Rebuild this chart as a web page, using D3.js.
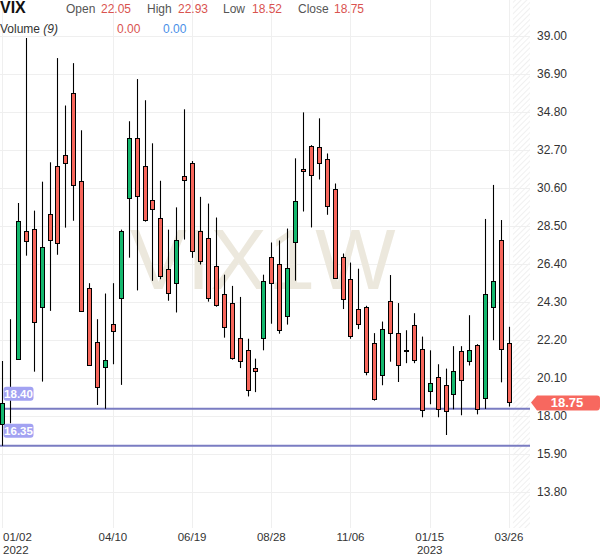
<!DOCTYPE html>
<html><head><meta charset="utf-8">
<script src="https://cdn.jsdelivr.net/npm/d3@7"></script>
<style>
body{margin:0;background:#fff;}
svg{display:block;font-family:"Liberation Sans",Arial,sans-serif;}
</style>
</head><body>
<svg id="c" width="600" height="558"></svg>
<script>
const symbol = "VIX";
const interval = "1W";
const weeks = ["2022-01-02","2022-01-09","2022-01-16","2022-01-23","2022-01-30","2022-02-06","2022-02-13","2022-02-20","2022-02-27","2022-03-06","2022-03-13","2022-03-20","2022-03-27","2022-04-03","2022-04-10","2022-04-17","2022-04-24","2022-05-01","2022-05-08","2022-05-15","2022-05-22","2022-05-29","2022-06-05","2022-06-12","2022-06-19","2022-06-26","2022-07-03","2022-07-10","2022-07-17","2022-07-24","2022-07-31","2022-08-07","2022-08-14","2022-08-21","2022-08-28","2022-09-04","2022-09-11","2022-09-18","2022-09-25","2022-10-02","2022-10-09","2022-10-16","2022-10-23","2022-10-30","2022-11-06","2022-11-13","2022-11-20","2022-11-27","2022-12-04","2022-12-11","2022-12-18","2022-12-25","2023-01-01","2023-01-08","2023-01-15","2023-01-22","2023-01-29","2023-02-05","2023-02-12","2023-02-19","2023-02-26","2023-03-05","2023-03-12","2023-03-19","2023-03-26"];
const open  = [17.58,19.50,21.17,28.20,28.31,24.05,29.14,31.80,32.41,35.86,31.00,25.10,22.11,20.73,23.06,24.51,30.03,33.35,31.84,29.96,28.96,26.15,25.34,31.28,31.96,28.20,27.86,26.31,24.76,24.27,22.33,21.66,20.67,22.33,26.76,26.42,23.51,27.59,31.63,32.90,32.84,32.18,30.57,26.81,25.59,23.90,24.03,22.02,20.25,24.35,22.58,21.67,23.02,21.69,19.37,20.14,19.70,19.20,21.58,21.03,21.91,18.98,24.01,27.72,22.05];
const high  = [21.04,23.35,29.77,38.89,29.35,30.95,32.02,37.78,35.16,37.50,33.79,25.34,23.35,24.77,25.34,28.30,34.29,36.62,35.45,33.07,31.00,28.30,29.53,34.95,32.09,30.11,29.74,28.97,25.81,25.19,24.58,22.27,21.17,25.81,27.59,27.70,28.36,32.24,34.78,32.97,34.45,32.51,30.85,26.98,26.48,26.14,24.09,22.58,23.22,25.79,24.24,22.74,23.68,22.39,21.63,20.86,20.62,21.86,21.86,23.57,21.97,28.89,30.77,28.83,22.93];
const low   = [16.35,17.60,21.10,26.86,20.45,19.90,23.81,26.91,28.41,28.79,23.80,20.80,18.61,18.40,20.86,19.72,26.75,24.94,28.74,25.47,25.56,24.37,23.72,27.75,26.74,26.37,24.32,24.04,22.33,21.11,20.65,19.08,19.32,21.63,23.10,22.55,23.05,25.48,29.30,28.42,31.07,29.12,25.60,23.91,22.27,22.80,20.25,18.85,19.70,21.00,19.88,20.92,20.92,17.93,18.65,17.93,16.95,18.37,18.04,20.79,18.09,18.39,22.19,19.86,18.52];
const close = [18.74,19.19,28.79,27.65,23.22,27.32,27.70,27.54,31.97,30.77,23.83,20.81,19.62,21.10,22.67,28.20,33.35,30.14,28.85,29.44,25.73,24.81,27.70,31.04,27.14,26.59,24.54,24.15,22.94,21.22,21.05,19.45,20.50,25.48,25.37,22.73,26.20,29.86,31.52,31.30,31.96,29.58,25.65,24.47,22.42,23.09,20.42,18.92,22.80,22.58,20.80,21.63,21.08,18.33,19.81,18.41,18.28,20.47,19.97,21.63,18.39,24.73,25.45,21.69,18.75];
const yTickValues = [13.80,15.90,18.00,20.10,22.20,24.30,26.40,28.50,30.60,32.70,34.80,36.90,39.00];
const xTickDates = ["2022-01-02","2022-04-10","2022-06-19","2022-08-28","2022-11-06","2023-01-15","2023-03-26"];
const xTickLabels = ["01/02","04/10","06/19","08/28","11/06","01/15","03/26"];
const xTickYears = ["2022","","","","","2023",""];
const levelLines = [18.40, 16.35];
const volumeVals = [0.00, 0.00];

const parse = d3.utcParse("%Y-%m-%d");
const data = weeks.map((w,i)=>({d:parse(w),o:open[i],h:high[i],l:low[i],c:close[i]}));
const last = data[data.length-1];

const svg = d3.select("#c");
const plotR = 530, plotB = 528;
const x = d3.scaleUtc().domain([parse(weeks[0]), parse(weeks[weeks.length-1])]).range([2, 508.9]);
const y = d3.scaleLinear().domain([18, 39]).range([416, 36]);

const RED = "#f7665b", GREEN = "#14b86e";

// hatch pattern
const defs = svg.append("defs");
const pat = defs.append("pattern").attr("id","hatch").attr("patternUnits","userSpaceOnUse")
  .attr("width",4).attr("height",4).attr("patternTransform","rotate(45)");
pat.append("line").attr("x1",0).attr("y1",0).attr("x2",0).attr("y2",4).attr("stroke","#e6e6e6").attr("stroke-width",1.2);
const hatchX = x(parse(weeks[weeks.length-1])) + 4;
svg.append("rect").attr("x",hatchX).attr("y",0).attr("width",plotR-hatchX).attr("height",plotB).attr("fill","url(#hatch)");

// grid
const gGrid = svg.append("g");
gGrid.selectAll("line.h").data(yTickValues).join("line")
  .attr("x1",0).attr("x2",plotR)
  .attr("y1",d=>Math.round(y(d))+0.5).attr("y2",d=>Math.round(y(d))+0.5)
  .attr("stroke","#efefef");
gGrid.selectAll("line.v").data(xTickDates).join("line")
  .attr("x1",d=>Math.round(x(parse(d)))+0.5).attr("x2",d=>Math.round(x(parse(d)))+0.5)
  .attr("y1",0).attr("y2",plotB)
  .attr("stroke","#efefef");

// watermark
svg.append("text").attr("x",130).attr("y",289).attr("font-size",85).attr("fill","#ece8dd").text(symbol);
svg.append("text").attr("x",268).attr("y",289).attr("font-size",85).attr("fill","#ece8dd").text(interval);

// level lines
svg.selectAll("line.lvl").data(levelLines).join("line")
  .attr("x1",0).attr("x2",plotR)
  .attr("y1",d=>y(d)).attr("y2",d=>y(d))
  .attr("stroke","#7a7cc2").attr("stroke-width",2);

// candles
const gC = svg.append("g");
const cand = gC.selectAll("g").data(data).join("g");
cand.append("line")
  .attr("x1",d=>Math.round(x(d.d))+0.5).attr("x2",d=>Math.round(x(d.d))+0.5)
  .attr("y1",d=>y(d.h)).attr("y2",d=>y(d.l))
  .attr("stroke","#000").attr("stroke-width",1.1);
cand.append("rect")
  .attr("x",d=>Math.round(x(d.d))-2+0.5)
  .attr("width",4)
  .attr("y",d=>Math.round(y(Math.max(d.o,d.c)))+0.5)
  .attr("height",d=>Math.max(1,Math.round(y(Math.min(d.o,d.c)))-Math.round(y(Math.max(d.o,d.c)))))
  .attr("fill",d=>d.c>=d.o?GREEN:RED)
  .attr("stroke","#000").attr("stroke-width",1);

// level labels
const lvlG = svg.selectAll("g.lvlLab").data(levelLines).join("g");
lvlG.append("rect").attr("x",3.5).attr("y",d=>y(d)-22).attr("width",30).attr("height",14).attr("rx",3)
  .attr("fill","#a2a2f2");
lvlG.append("text").attr("x",18.5).attr("y",d=>y(d)-11).attr("text-anchor","middle")
  .attr("font-size",11.5).attr("font-weight","bold").attr("fill","#fff").text(d=>d.toFixed(2));

// y axis
const yAxis = d3.axisRight(y).tickValues(yTickValues).tickSize(0).tickPadding(0).tickFormat(d=>d.toFixed(2));
const gy = svg.append("g").attr("transform","translate(537,0)").call(yAxis);
gy.select(".domain").remove();
gy.selectAll("text").attr("font-size",12).attr("fill","#333").attr("font-family","Liberation Sans, Arial, sans-serif");

// x axis labels
const gx = svg.append("g");
xTickDates.forEach((d,i)=>{
  const px = x(parse(d));
  const anchor = i===0 ? "start" : "middle";
  const tx = i===0 ? 3 : px;
  gx.append("text").attr("x",tx).attr("y",541).attr("text-anchor",anchor).attr("font-size",11.5).attr("fill","#333").text(xTickLabels[i]);
  if (xTickYears[i]) gx.append("text").attr("x",tx).attr("y",554).attr("text-anchor",anchor).attr("font-size",11.5).attr("fill","#333").text(xTickYears[i]);
});

// last price tag
const ly = y(last.c);
svg.append("path")
  .attr("d",`M531,${ly} L537,${ly-7} L597,${ly-7} Q600,${ly-7} 600,${ly-4} L600,${ly+4} Q600,${ly+8} 597,${ly+8} L537,${ly+8} Z`)
  .attr("fill","#f7685f");
svg.append("text").attr("x",567).attr("y",ly+5).attr("text-anchor","middle").attr("font-size",13)
  .attr("font-weight","bold").attr("fill","#fff").text(last.c.toFixed(2));

// header
const hdr = svg.append("g");
hdr.append("text").attr("x",0).attr("y",13).attr("font-size",16).attr("font-weight","bold").attr("fill","#111").text(symbol);
const items = [["Open",66,last.o,101],["High",147,last.h,178],["Low",223,last.l,252],["Close",298,last.c,334]];
items.forEach(([lab,lx,val,vx])=>{
  hdr.append("text").attr("x",lx).attr("y",13).attr("font-size",12).attr("fill","#555").text(lab);
  hdr.append("text").attr("x",vx).attr("y",13).attr("font-size",12).attr("fill","#d9534f").text(val.toFixed(2));
});
const vt = hdr.append("text").attr("x",0).attr("y",33).attr("font-size",12).attr("fill","#333");
vt.append("tspan").text("Volume ");
vt.append("tspan").attr("font-style","italic").text("(9)");
hdr.append("text").attr("x",117).attr("y",33).attr("font-size",12).attr("fill","#d9534f").text(volumeVals[0].toFixed(2));
hdr.append("text").attr("x",163).attr("y",33).attr("font-size",12).attr("fill","#4a8fe7").text(volumeVals[1].toFixed(2));
</script>
</body></html>
